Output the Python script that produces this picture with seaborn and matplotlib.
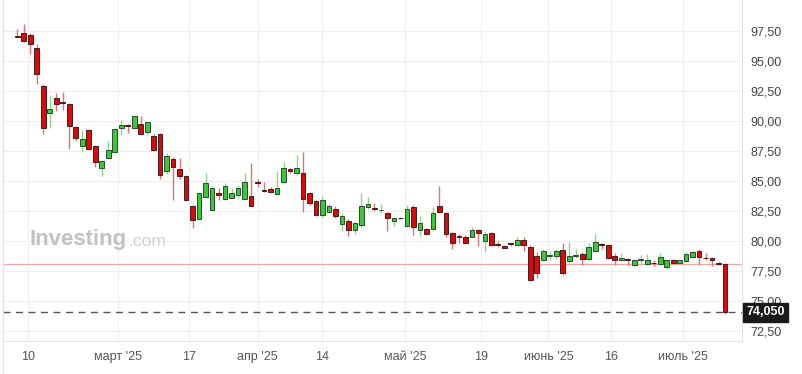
import matplotlib
matplotlib.use("Agg")
import matplotlib.pyplot as plt
import seaborn as sns
import numpy as np
import pandas as pd
from matplotlib.lines import Line2D

# ---- data ----
opens = [97.05, 97.3, 97.2, 96.1, 92.9, 90.7, 91.9, 91.6, 91.4, 89.5,
         87.9, 89.25, 87.9, 86.1, 86.9, 87.4, 89.4, 89.7, 89.4, 89.75,
         89.1, 88.75, 88.9, 85.8, 86.8, 86.0, 85.4, 82.9, 81.85, 83.7,
         82.6, 84.0, 83.5, 83.6, 83.8, 83.5, 83.75, 84.9, 84.25, 84.3,
         83.9, 84.9, 86.0, 85.65, 85.65, 84.0, 83.3, 82.2, 82.4, 82.7,
         81.4, 81.7, 80.9, 81.3, 82.8, 82.75, 82.6, 82.3, 81.65, 81.92,
         81.25, 82.8, 80.9, 81.0, 81.0, 82.9, 82.35, 80.7, 80.4, 80.35,
         80.35, 80.9, 80.0, 80.7, 79.72, 79.6, 79.8, 79.7, 80.05, 79.5,
         78.75, 78.4, 78.78, 78.75, 79.25, 78.3, 78.78, 78.9, 78.5, 79.15,
         79.75, 79.65, 78.75, 78.4, 78.5, 78.0, 78.43, 78.05, 78.17, 78.1,
         77.8, 78.45, 78.15, 78.3, 78.65, 79.2, 78.62, 78.6, 78.2, 78.1]
highs = [97.7, 98.1, 97.35, 96.4, 93.1, 92.2, 92.3, 92.4, 91.5, 89.6,
         89.25, 89.35, 88.0, 86.75, 88.3, 89.4, 90.1, 89.75, 90.5, 90.4,
         90.0, 88.9, 89.0, 87.3, 87.0, 86.9, 85.5, 83.0, 84.1, 85.7,
         84.6, 84.4, 84.8, 84.4, 84.7, 85.7, 86.5, 85.2, 84.9, 84.5,
         85.8, 86.55, 86.1, 87.2, 87.45, 84.1, 83.4, 83.75, 83.1, 82.9,
         82.3, 81.8, 81.6, 84.0, 83.7, 83.2, 83.05, 82.4, 82.0, 82.0,
         83.0, 83.0, 82.1, 81.1, 82.8, 84.6, 82.4, 80.75, 80.6, 80.5,
         81.2, 81.0, 80.8, 80.75, 80.0, 79.7, 79.85, 80.3, 80.35, 79.7,
         79.1, 79.35, 79.2, 79.35, 79.85, 79.9, 79.3, 79.1, 79.8, 80.6,
         79.8, 79.7, 79.0, 79.0, 78.55, 78.5, 78.8, 78.9, 78.4, 79.0,
         78.45, 78.5, 78.45, 79.05, 79.15, 79.35, 79.0, 78.65, 78.25, 78.15]
lows = [96.9, 96.6, 95.6, 93.1, 88.9, 89.4, 90.8, 90.9, 87.7, 88.3,
        87.4, 87.6, 86.2, 85.4, 86.85, 87.35, 88.8, 89.0, 89.35, 88.8,
        88.8, 87.5, 85.2, 85.6, 83.4, 85.2, 83.3, 81.05, 81.8, 83.65,
        82.55, 83.4, 83.45, 83.55, 83.6, 83.45, 82.9, 84.5, 84.1, 84.0,
        83.8, 84.8, 85.7, 85.5, 82.45, 83.0, 82.1, 82.0, 82.3, 81.9,
        80.8, 80.45, 80.6, 81.2, 82.7, 82.5, 82.3, 80.8, 81.25, 81.85,
        81.2, 80.5, 80.4, 80.5, 80.9, 82.3, 80.3, 79.3, 79.8, 79.8,
        80.3, 79.6, 79.1, 79.6, 79.5, 79.4, 79.6, 79.65, 79.2, 76.7,
        76.9, 78.3, 78.4, 78.5, 77.2, 78.2, 78.55, 78.0, 78.45, 79.1,
        79.3, 78.5, 78.0, 78.3, 78.0, 77.95, 78.0, 78.0, 77.9, 78.05,
        77.7, 78.1, 78.05, 78.25, 78.6, 78.0, 78.4, 77.9, 78.0, 73.95]
closes = [97.0, 96.65, 96.4, 93.9, 89.4, 91.0, 91.4, 91.5, 89.6, 88.6,
          88.5, 87.7, 86.6, 86.7, 87.6, 89.3, 89.7, 89.6, 90.4, 88.9,
          89.9, 87.6, 85.5, 87.1, 86.2, 85.4, 83.4, 81.75, 84.0, 84.8,
          84.4, 83.8, 84.6, 84.0, 84.4, 84.9, 82.95, 84.85, 84.2, 84.05,
          84.4, 86.05, 85.85, 86.05, 83.5, 83.2, 82.2, 83.4, 82.9, 82.1,
          82.1, 80.9, 81.5, 82.9, 83.1, 82.7, 82.62, 81.9, 81.9, 81.9,
          82.7, 81.2, 81.5, 80.6, 82.35, 82.4, 80.6, 79.8, 80.3, 79.85,
          80.9, 80.7, 80.55, 79.65, 79.68, 79.45, 79.75, 80.1, 79.7, 76.75,
          77.35, 79.2, 78.82, 79.2, 77.3, 78.75, 78.82, 78.5, 79.5, 79.95,
          79.7, 78.6, 78.45, 78.6, 78.42, 78.4, 78.47, 78.4, 78.13, 78.7,
          78.4, 78.15, 78.4, 78.9, 79.1, 78.65, 78.58, 78.4, 78.1, 74.05]

tick_pos = [1.6, 15.5, 26.4, 37.0, 46.9, 59.7, 71.4, 81.8, 91.5, 102.5]
tick_labels = ["10", "март '25", "17", "апр '25", "14", "май '25",
               "19", "июнь '25", "16", "июль '25"]
y_ticks = [72.5, 75.0, 77.5, 80.0, 82.5, 85.0, 87.5, 90.0, 92.5, 95.0, 97.5]
last_price = 74.05
prev_close = 78.08

# ---- style ----
sns.set_theme(style="white")
plt.rcParams['font.family'] = ['Liberation Sans', 'DejaVu Sans']

df = pd.DataFrame({"o": opens, "h": highs, "l": lows, "c": closes})
df["i"] = np.arange(len(df))
df["up"] = df["c"] > df["o"]

W, H = 803, 374
fig = plt.figure(figsize=(W / 100, H / 100), dpi=100)
fig.patch.set_facecolor("white")
ax = fig.add_axes([3 / W, (H - 341) / H, (742 - 3) / W, 341 / H])
ax.set_facecolor("white")

# grid
for yv in y_ticks:
    ax.axhline(yv, color="#efefef", lw=0.8, zorder=0)
for xv in tick_pos:
    ax.axvline(xv, color="#efefef", lw=0.8, zorder=0)

# watermark
t1 = fig.text(30 / W, 1 - 239 / H, "Investing", color="#c2c2c2", fontsize=16,
              fontweight="bold", va="center", ha="left", zorder=1)
fig.canvas.draw()
bb = t1.get_window_extent()
fig.text(bb.x1 / W + 1 / W, 1 - 241 / H, ".com", color="#d2d2d2", fontsize=12.5,
         va="center", ha="left", zorder=1)

# previous close line
ax.axhline(prev_close, color="#f4a3a3", lw=0.9, zorder=1)

# candles
red_body, green_body = "#d90a0a", "#38c838"
red_wick, green_wick = "#dc7474", "#8ad68a"
up = df[df["up"]]
dn = df[~df["up"]]
ax.vlines(up["i"], up["l"], up["h"], color=green_wick, lw=1.0, zorder=2)
ax.vlines(dn["i"], dn["l"], dn["h"], color=red_wick, lw=1.0, zorder=2)
ax.bar(up["i"], up["c"] - up["o"], bottom=up["o"], width=0.72,
       color=green_body, edgecolor="#2e4a2e", linewidth=0.7, zorder=3)
ax.bar(dn["i"], dn["o"] - dn["c"], bottom=dn["c"], width=0.72,
       color=red_body, edgecolor="#4a1a1a", linewidth=0.7, zorder=3)

# last price dashed line
ax.axhline(last_price, color="#555555", lw=1.0, ls=(0, (5, 4)), zorder=4)

ax.set_xlim(-2.2, 111.6)
ax.set_ylim(71.67, 100.08)

ax.set_xticks(tick_pos)
ax.set_xticklabels(tick_labels)
ax.set_yticks(y_ticks)
ax.set_yticklabels([f"{v:.2f}".replace(".", ",") for v in y_ticks])
ax.yaxis.tick_right()
ax.tick_params(axis="x", length=0, pad=7, labelsize=9, colors="#555555")
ax.tick_params(axis="y", length=0, pad=6, labelsize=9, colors="#444444")

for s in ["top"]:
    ax.spines[s].set_visible(False)
for s in ["left", "right", "bottom"]:
    ax.spines[s].set_color("#e2e2e2")
    ax.spines[s].set_linewidth(0.8)

# last price label
ax.annotate(f"{last_price:.3f}".replace(".", ","), xy=(1.0, last_price),
            xycoords=("axes fraction", "data"), xytext=(3, 0),
            textcoords="offset points", ha="left", va="center",
            fontsize=9, fontweight="bold", color="white", zorder=10,
            bbox=dict(boxstyle="square,pad=0.25", fc="#1a1a1a", ec="#1a1a1a"),
            annotation_clip=False)

# outer frame left line
fig.add_artist(Line2D([3.5 / W, 3.5 / W], [0, 1], color="#e2e2e2", lw=0.8,
                      transform=fig.transFigure))

fig.savefig("out.png", dpi=100)
